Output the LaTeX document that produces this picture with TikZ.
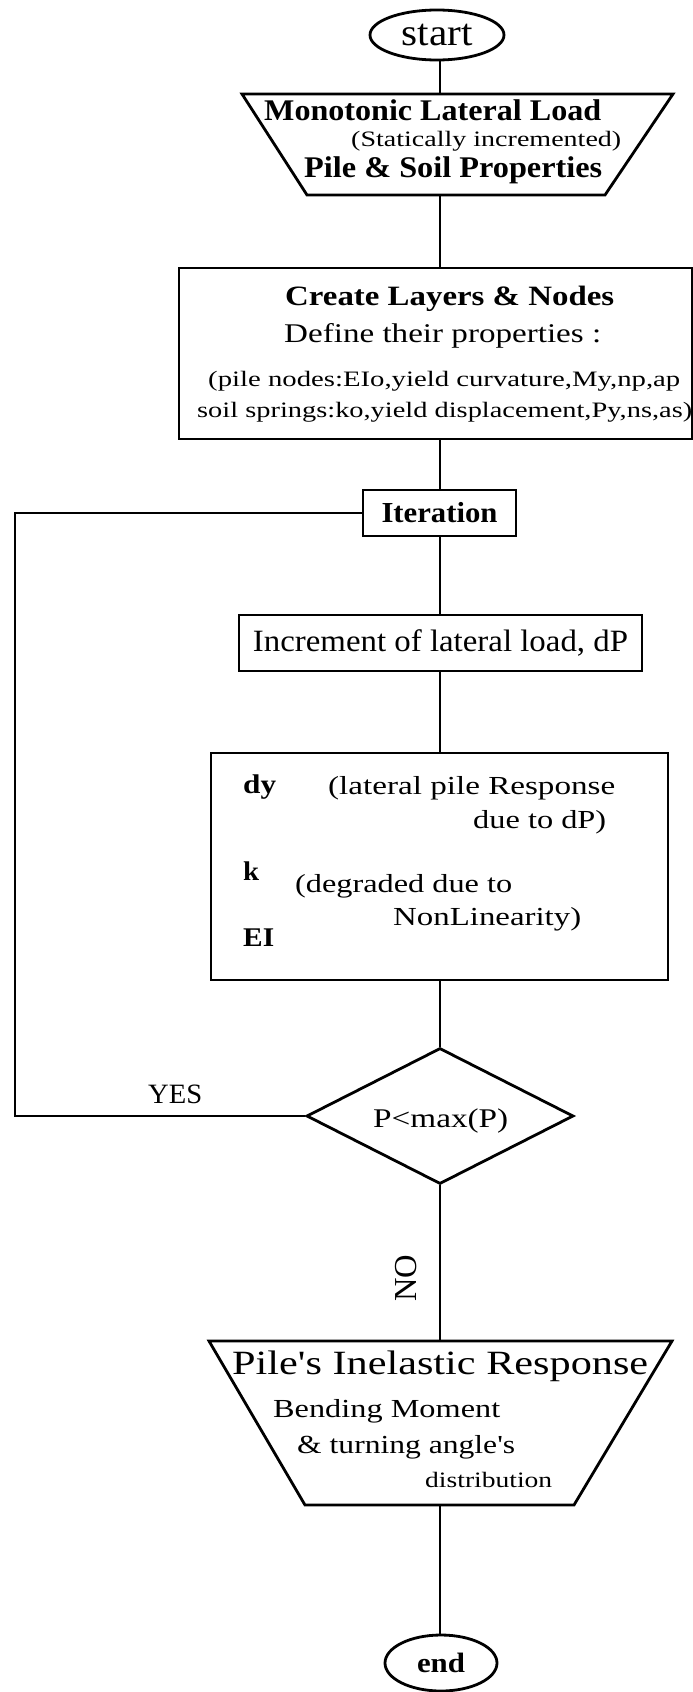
\documentclass[tikz,border=0pt]{standalone}
\usepackage{fontspec}
\setmainfont{Liberation Serif}
\usepackage{graphicx}
\usetikzlibrary{shapes.geometric}
\newcommand{\fitt}[3]{\resizebox{#1pt}{\height}{\fontsize{#2pt}{#2pt}\selectfont #3}}
\begin{document}
\begin{tikzpicture}[x=1pt,y=-1pt,
  lw/.style={line width=2.8pt, line join=miter},
  txt/.style={inner sep=0pt, anchor=base west},
  frame/.style={draw, lw, rectangle, inner sep=0pt},
  ghost/.style={rectangle, draw=none, inner sep=0pt, outer sep=0pt},
  term/.style={draw, lw, ellipse, inner sep=0pt},
  decide/.style={draw, lw, diamond, shape aspect=2, inner sep=0pt}]
\useasboundingbox (0,0) rectangle (693,1692);
\coordinate (ax) at (440,0);
\coordinate (lx) at (15,0);

% start
\node[term, minimum width=134pt, minimum height=50pt] (start) at (437,35) {\fitt{71}{38}{start}};

% trapezium 1
\node[ghost, minimum width=431pt, minimum height=101pt] (t1) at (457.5,144.5) {};
\draw[lw] (t1.north west) -- (t1.north east) -- ([xshift=-68pt]t1.south east) -- ([xshift=65pt]t1.south west) -- cycle;
\node[txt] (t1a) at (264,120) {\fitt{337}{30}{\bfseries Monotonic Lateral Load}};
\node[txt] (t1b) at (351,146) {\fitt{270}{22}{(Statically incremented)}};
\node[txt] (t1c) at (304,177) {\fitt{298}{30}{\bfseries Pile \& Soil Properties}};

% create box
\node[frame, minimum width=513pt, minimum height=171pt] (create) at (435.5,353.5) {};
\node[txt] (c1) at (285,305) {\fitt{329}{28}{\bfseries Create Layers \& Nodes}};
\node[txt] (c2) at (284,342) {\fitt{317}{27}{Define their properties :}};
\node[txt] (c3) at (208,386) {\fitt{472}{22}{(pile nodes:EIo,yield curvature,My,np,ap}};
\node[txt] (c4) at (197,417) {\fitt{495}{22}{soil springs:ko,yield displacement,Py,ns,as)}};

% iteration
\node[frame, minimum width=153pt, minimum height=46pt] (iter) at (439.5,513) {\fitt{116}{29}{\bfseries Iteration}};

% increment
\node[frame, minimum width=403pt, minimum height=56pt] (inc) at (440.5,643) {\fitt{375}{31}{Increment of lateral load, dP}};

% response box
\node[frame, minimum width=457pt, minimum height=227pt] (resp) at (439.5,866.5) {};
\node[txt] (r1) at (243,793) {\fitt{33}{27}{\bfseries dy}};
\node[txt] (r2) at (328,794) {\fitt{287}{26}{(lateral pile Response}};
\node[txt] (r3) at (473,828) {\fitt{133}{26}{due to dP)}};
\node[txt] (r4) at (243,880) {\fitt{16}{27}{\bfseries k}};
\node[txt] (r5) at (295,892) {\fitt{217}{26}{(degraded due to}};
\node[txt] (r6) at (393,925) {\fitt{188}{26}{NonLinearity)}};
\node[txt] (r7) at (243,946) {\fitt{31}{27}{\bfseries EI}};

% decision
\node[decide, minimum width=267pt, minimum height=136pt] (dia) at (440,1116) {};
\node[txt] (diat) at (373,1127) {\fitt{135}{27}{P<max(P)}};
\node[txt] (yes) at (148,1103) {\fitt{54}{28}{YES}};
\node[inner sep=0pt, rotate=90] (no) at (406,1278) {\fitt{47}{32}{NO}};

% trapezium 2
\node[ghost, minimum width=463pt, minimum height=164pt] (t2) at (440.5,1423) {};
\draw[lw] (t2.north west) -- (t2.north east) -- ([xshift=-98pt]t2.south east) -- ([xshift=96pt]t2.south west) -- cycle;
\node[txt] (t2a) at (232,1374) {\fitt{416}{34}{Pile\textquotesingle s Inelastic Response}};
\node[txt] (t2b) at (273,1417) {\fitt{227}{26}{Bending Moment}};
\node[txt] (t2c) at (297,1453) {\fitt{218}{26}{\& turning angle\textquotesingle s}};
\node[txt] (t2d) at (425,1487) {\fitt{127}{22}{distribution}};

% end
\node[term, minimum width=112pt, minimum height=56pt] (stop) at (441,1663) {\fitt{48}{28}{\bfseries end}};

% connectors
\draw[lw] (start.south -| ax) -- (t1.north -| ax);
\draw[lw] (t1.south -| ax) -- (create.north -| ax);
\draw[lw] (create.south -| ax) -- (iter.north -| ax);
\draw[lw] (iter.south -| ax) -- (inc.north -| ax);
\draw[lw] (inc.south -| ax) -- (resp.north -| ax);
\draw[lw] (resp.south -| ax) -- (dia.north);
\draw[lw] (dia.south) -- (t2.north -| ax);
\draw[lw] (t2.south -| ax) -- (stop.north -| ax);
\draw[lw] (dia.west) -- (dia.west -| lx) -- (iter.west -| lx) -- (iter.west);
\end{tikzpicture}
\end{document}
